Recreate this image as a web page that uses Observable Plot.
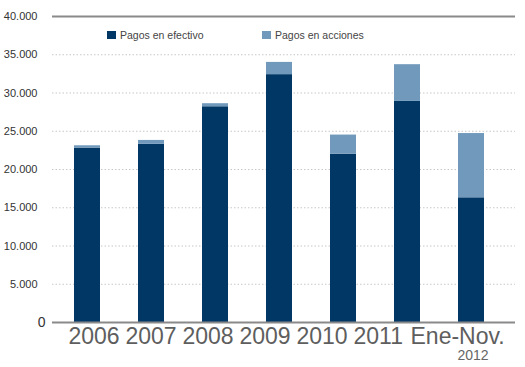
<!DOCTYPE html>
<html>
<head>
<meta charset="utf-8">
<script src="https://cdn.jsdelivr.net/npm/d3@7"></script>
<script src="https://cdn.jsdelivr.net/npm/@observablehq/plot@0.6"></script>
<style>
  html, body { margin: 0; padding: 0; background: #fff; }
  #wrap { position: relative; width: 525px; height: 367px; font-family: "Liberation Sans", Arial, sans-serif; }
  #wrap svg { display: block; }
  .legend { position: absolute; top: 29px; font-size: 10.5px; color: #444; display: flex; align-items: center; }
  .legend span.sw { display: inline-block; width: 9px; height: 8px; margin-right: 4px; }
</style>
</head>
<body>
<div id="wrap"></div>
<script>
// ---- data ----
const years = ["2006", "2007", "2008", "2009", "2010", "2011", "Ene-Nov."];
const subLabels = ["", "", "", "", "", "", "2012"];
const series = ["Pagos en efectivo", "Pagos en acciones"];
const efectivo = [22800, 23300, 28200, 32400, 22000, 28900, 16300];
const acciones = [300, 500, 400, 1600, 2500, 4800, 8400];
const yTicks = [5000, 10000, 15000, 20000, 25000, 30000, 35000, 40000];
const colors = ["#003764", "#7099bc"];

const rows = [];
years.forEach((y, i) => {
  rows.push({year: y, series: series[0], value: efectivo[i]});
  rows.push({year: y, series: series[1], value: acciones[i]});
});

const fmt = d3.formatLocale({decimal: ",", thousands: ".", grouping: [3], currency: ["", "€"]}).format(",");
const font = "Liberation Sans, Arial, sans-serif";

const main = Plot.plot({
  width: 525,
  height: 330,
  marginTop: 16,
  marginBottom: 8,
  marginLeft: 52,
  marginRight: 10,
  style: {fontFamily: font, background: "#fff"},
  x: {domain: years, paddingInner: 0.594, paddingOuter: 0.414, align: 0.415, axis: null},
  y: {domain: [0, 40000], axis: null},
  color: {domain: series, range: colors},
  marks: [
    Plot.ruleY(yTicks.filter(d => d < 40000), {stroke: "#c8c8c8", strokeDasharray: "1.5,2"}),
    Plot.barY(rows, {x: "year", y: "value", fill: "series", order: series}),
    Plot.ruleY([40000], {stroke: "#8a8a8a", strokeWidth: 2}),
    Plot.ruleY([0], {stroke: "#8a8a8a", strokeWidth: 2}),
    Plot.axisY({ticks: yTicks, tickSize: 0, tickPadding: 15, tickFormat: fmt, fontSize: 11, fill: "#333", label: null}),
    Plot.axisY({ticks: [0], tickSize: 0, tickPadding: 7, tickFormat: fmt, fontSize: 14, fill: "#333", label: null})
  ]
});

const labels = Plot.plot({
  width: 525,
  height: 37,
  marginTop: 0,
  marginBottom: 0,
  marginLeft: 66,
  marginRight: 113,
  style: {fontFamily: font, background: "#fff", overflow: "visible"},
  x: {type: "point", domain: years, padding: 0, axis: null},
  y: {axis: null},
  marks: [
    Plot.text(years, {x: d => d, text: d => d, frameAnchor: "top", lineAnchor: "top", textAnchor: "start", fontSize: 23, fill: "#5e5e5e", dy: -3}),
    Plot.text(years.map((d, i) => ({x: d, t: subLabels[i]})).filter(d => d.t), {x: "x", text: "t", frameAnchor: "top", lineAnchor: "top", textAnchor: "start", fontSize: 14, fill: "#666", dx: 47, dy: 20})
  ]
});

const wrap = document.getElementById("wrap");
wrap.appendChild(main);
wrap.appendChild(labels);

const legendItems = [{name: series[0], color: colors[0], left: 107}, {name: series[1], color: colors[1], left: 262}];
legendItems.forEach(it => {
  const div = document.createElement("div");
  div.className = "legend";
  div.style.left = it.left + "px";
  div.innerHTML = `<span class="sw" style="background:${it.color}"></span>${it.name}`;
  wrap.appendChild(div);
});
</script>
</body>
</html>
